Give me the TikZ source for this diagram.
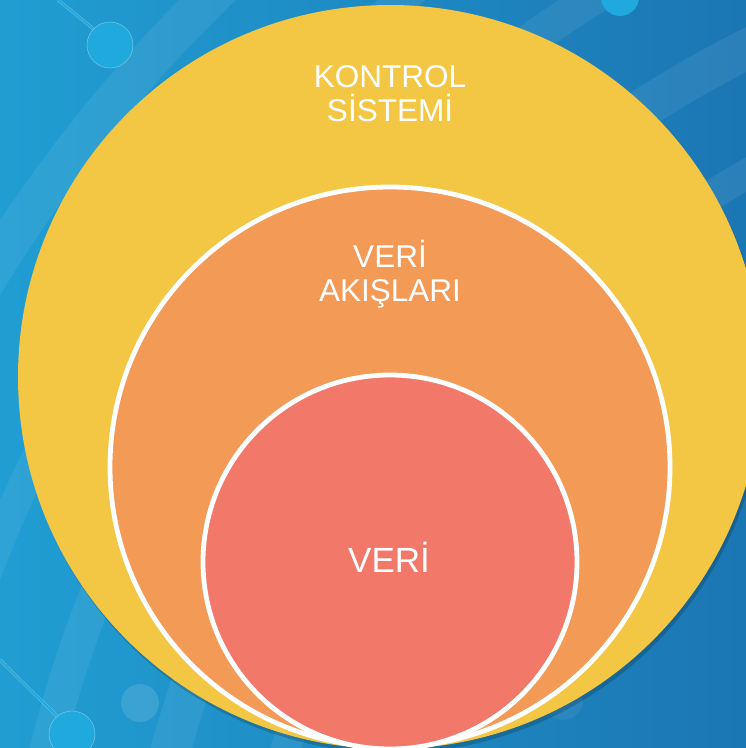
\documentclass[tikz,border=0pt]{standalone}
\usepackage{fontspec}
\setmainfont{Liberation Sans}
\usetikzlibrary{shadings}
\definecolor{bgA}{HTML}{22A8DB}
\definecolor{bgB}{HTML}{1A6CAB}
\definecolor{ringY}{HTML}{F3C644}
\definecolor{ringO}{HTML}{F29A56}
\definecolor{ringR}{HTML}{F2786A}
\definecolor{dot}{HTML}{20A9DC}
\tikzset{
  ring/.style={draw=white, line width=4.8pt},
  label/.style={text=white, align=center, font=\fontsize{31.5}{34}\selectfont},
  band/.style={draw=white, draw opacity=0.07},
  pin/.style={draw=white, draw opacity=0.35, line width=0.6pt, fill=dot},
}
\begin{document}
\begin{tikzpicture}[x=1pt, y=-1pt]
  % background
  \useasboundingbox (0,0) rectangle (746,748);
  \begin{scope}
    \clip (0,0) rectangle (746,748);
    \shade[shading=axis, shading angle=-35, left color=bgA, right color=bgB]
      (-200,-200) rectangle (946,948);
    % faint curved bands
    \foreach \r/\w in {900/34, 1010/30, 1120/40, 1240/34, 1350/30, 1480/40}
      \draw[band, line width=\w pt] (1250,1050) circle[radius=\r];
    % circuit pins
    \draw[draw=white, draw opacity=0.35, line width=3pt] (58,0) -- (96,31);
    \draw[draw=dot, line width=2pt] (58,0) -- (96,31);
    \draw[pin] (110,45) circle[radius=23];
    \fill[dot] (620,-3) circle[radius=19];
    \draw[draw=white, draw opacity=0.35, line width=3pt] (0,660) -- (57,716);
    \draw[draw=dot, line width=2pt] (0,660) -- (57,716);
    \draw[pin] (72,734) circle[radius=23];
    \fill[white, opacity=0.12] (140,703) circle[radius=19];
    \fill[white, opacity=0.06] (563,700) circle[radius=20];
    \fill[dot] (768,650) circle[radius=22];
  \end{scope}
  % nested circles
  \fill[black, opacity=0.18] (392,381) circle[radius=372];
  \fill[ringY] (390,377) circle[radius=372];
  \node[label] (outer) at (390,94) {KONTROL\\SİSTEMİ};
  \draw[ring, fill=ringO] (390,467) circle[radius=280];
  \node[label] (middle) at (390,274) {VERİ\\AKIŞLARI};
  \draw[ring, fill=ringR] (390,562) circle[radius=187];
  \node[label, font=\fontsize{35}{38}\selectfont] (inner) at (389,557) {VERİ};
\end{tikzpicture}
\end{document}
